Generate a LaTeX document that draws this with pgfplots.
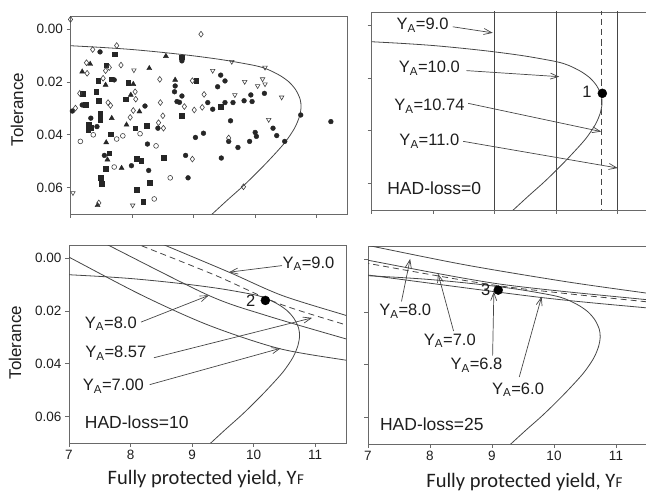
\documentclass[border=0pt]{standalone}
\usepackage{fontspec}
\setmainfont{Liberation Sans}
\newfontfamily\carlito{Carlito}
\usepackage{pgfplots}
\pgfplotsset{compat=1.18}
\usetikzlibrary{arrows.meta}

\definecolor{ln}{RGB}{70,70,70}
\definecolor{fr}{RGB}{105,105,105}
\definecolor{tx}{RGB}{30,30,30}

\newcommand{\tickf}{\fontsize{13.5}{16}\selectfont}
\newcommand{\labf}{\fontsize{17}{20}\selectfont}
\newcommand{\annf}{\fontsize{16.5}{19}\selectfont}
\newcommand{\hadf}{\fontsize{17.5}{20}\selectfont}
\newcommand{\xlf}{\carlito\fontsize{20.5}{24}\selectfont}
\newcommand{\YA}{Y\textsubscript{A}}

\tikzset{
  iso/.style={ln, line width=0.8pt, smooth},
  arr/.style={ln, line width=0.7pt, -{Straight Barb[length=8pt,width=6pt]}},
  ann/.style={font=\annf, text=tx},
}
\pgfplotsset{
  panel/.style={
    scale only axis, width=277pt, height=198pt,
    xmin=7, xmax=11.5, ymin=-0.005, ymax=0.07, y dir=reverse,
    xtick={7,8,9,10,11}, ytick={0,0.02,0.04,0.06},
    xticklabels={}, yticklabels={},
    scaled x ticks=false, scaled y ticks=false,
    tick align=outside, xtick pos=bottom, ytick pos=left,
    major tick length=4pt,
    axis line style={fr, line width=0.9pt},
    tick style={fr, line width=0.8pt},
    ticklabel style={font=\tickf, text=tx},
    clip=true,
  },
}

% efficient frontier, identical in all four panels
\newcommand{\frontier}{%
  \addplot[ln, line width=0.8pt, smooth, tension=0.5] coordinates {
    (6.95,0.0062) (7.5,0.0069) (8.0,0.0077) (8.5,0.0088) (9.0,0.0101)
    (9.5,0.0117) (10.0,0.0138) (10.2,0.0152) (10.4,0.0175) (10.55,0.0200)
    (10.66,0.0230) (10.73,0.0265) (10.745,0.0295) (10.72,0.0330) (10.64,0.0375)
    (10.48,0.0430) (10.25,0.0490) (10.03,0.0543) (9.80,0.0595) (9.55,0.0647)
    (9.28,0.0705)
  };}

\begin{document}
\begin{tikzpicture}
\useasboundingbox (0pt,0pt) rectangle (646pt,497pt);
\clip (0pt,0pt) rectangle (646pt,497pt);

% ---------- top left: scatter ----------
\begin{axis}[panel, at={(70.5pt,283pt)}, anchor=south west,
  yticklabels={0.00,0.02,0.04,0.06}]
\frontier
\addplot[only marks, mark=*, mark size=2.4pt, black!85] coordinates {
  (7.48,0.0086) (8.81,0.0120) (7.71,0.0192) (8.70,0.0215) (8.69,0.0237)
  (8.81,0.0253) (8.73,0.0274) (8.77,0.0277) (7.19,0.0287) (8.21,0.0291)
  (7.03,0.0310) (9.44,0.0174) (9.51,0.0196) (9.39,0.0218) (10.15,0.0243)
  (9.93,0.0249) (9.82,0.0271) (9.95,0.0274) (9.64,0.0278) (9.51,0.0278)
  (9.31,0.0303) (9.23,0.0278) (10.74,0.0325) (11.23,0.0350) (9.60,0.0347)
  (9.16,0.0394) (9.03,0.0410) (9.57,0.0425) (9.72,0.0448) (9.91,0.0425)
  (10.00,0.0391) (10.02,0.0406) (10.29,0.0375) (10.35,0.0403) (10.48,0.0425)
  (9.45,0.0488) (7.33,0.0337) (7.43,0.0369) (8.42,0.0375) (8.25,0.0435)
  (8.87,0.0478) (7.55,0.0478) (7.99,0.0517) (8.27,0.0535) (8.91,0.0563)
};
\addplot[only marks, mark=square*, mark size=2.3pt, black!85] coordinates {
  (7.72,0.0094) (8.81,0.0106) (7.58,0.0136) (7.45,0.0195) (7.66,0.0190)
  (7.94,0.0203) (9.04,0.0195) (7.20,0.0245) (7.42,0.0237) (7.46,0.0271)
  (7.90,0.0265) (9.44,0.0293) (8.81,0.0327) (7.48,0.0321) (7.48,0.0343)
  (7.30,0.0362) (7.33,0.0372) (7.29,0.0381) (7.65,0.0398) (8.05,0.0375)
  (8.24,0.0365) (7.63,0.0469) (7.57,0.0529) (8.08,0.0491) (8.15,0.0497)
  (8.51,0.0486) (7.49,0.0563) (7.51,0.0586) (8.29,0.0582) (8.08,0.0608)
  (8.18,0.0654) (7.25,0.0287)
};
\addplot[only marks, mark=triangle*, mark size=2.9pt, black!85] coordinates {
  (8.55,0.0102) (7.32,0.0132) (8.28,0.0148) (7.19,0.0161) (7.57,0.0211)
  (8.02,0.0208) (8.70,0.0192) (7.98,0.0249) (8.12,0.0312) (7.67,0.0337)
  (7.91,0.0362) (7.58,0.0429) (7.60,0.0494) (7.83,0.0526) (7.44,0.0667)
};
\addplot[only marks, mark=diamond, mark size=2.9pt, black!75,
  mark options={line width=0.6pt}] coordinates {
  (7.00,-0.0037) (9.12,0.0019) (7.75,0.0062) (7.36,0.0077) (7.26,0.0127)
  (7.63,0.0145) (7.82,0.0136) (7.27,0.0167) (7.57,0.0157) (7.53,0.0186)
  (8.05,0.0237) (8.45,0.0190) (8.98,0.0195) (9.17,0.0247) (7.15,0.0243)
  (7.61,0.0278) (7.65,0.0289) (8.06,0.0265) (8.46,0.0278) (8.85,0.0293)
  (9.01,0.0306) (9.14,0.0296) (7.08,0.0299) (8.02,0.0308) (7.97,0.0334)
  (8.50,0.0328) (8.43,0.0354) (8.51,0.0375) (9.57,0.0412) (8.98,0.0492)
  (9.81,0.0597) (7.46,0.0658)
};
\addplot[only marks, mark=o, mark size=2.4pt, black!75,
  mark options={line width=0.6pt}] coordinates {
  (7.37,0.0400) (7.16,0.0425) (7.75,0.0416) (7.85,0.0404) (8.13,0.0396)
  (8.39,0.0442) (7.71,0.0522) (8.62,0.0563) (8.36,0.0643)
};
\addplot[only marks, mark=triangle, mark size=2.6pt, black!75,
  mark options={rotate=180, line width=0.6pt}] coordinates {
  (8.03,0.0155) (9.62,0.0123) (10.16,0.0145) (9.31,0.0157) (9.83,0.0199)
  (10.04,0.0215) (10.12,0.0189) (10.16,0.0208) (10.43,0.0258) (9.67,0.0249)
  (10.22,0.0343) (8.01,0.0667) (7.04,0.0620)
};
\end{axis}

% ---------- top right: HAD-loss = 0 ----------
\begin{axis}[panel, at={(371.5pt,287pt)}, anchor=south west]
\frontier
\addplot[iso] coordinates {(9,-0.01) (9,0.08)};
\addplot[iso] coordinates {(10,-0.01) (10,0.08)};
\addplot[iso, dash pattern=on 6pt off 4pt] coordinates {(10.74,-0.01) (10.74,0.08)};
\addplot[iso] coordinates {(11,-0.01) (11,0.08)};
\addplot[only marks, mark=*, mark size=4.5pt, black] coordinates {(10.75,0.0258)};
\node[ann] at (10.50,0.0252) {1};
\node[ann] at (7.83,0.0000) {\YA=9.0};
\draw[arr] (8.32,0.0006) -- (8.97,0.0029);
\node[ann] at (7.94,0.0163) {\YA=10.0};
\draw[arr] (8.54,0.0172) -- (10.05,0.0195);
\node[ann] at (7.94,0.0308) {\YA=10.74};
\draw[arr] (8.57,0.0296) -- (10.73,0.0403);
\node[ann] at (7.94,0.0440) {\YA=11.0};
\draw[arr] (8.49,0.0440) -- (11.0,0.0541);
\node[font=\hadf, text=tx] at (8.02,0.0616) {HAD-loss=0};
\end{axis}

% ---------- bottom left: HAD-loss = 10 ----------
\begin{axis}[panel, at={(69pt,54pt)}, anchor=south west,
  xticklabels={7,8,9,10,11}, yticklabels={0.00,0.02,0.04,0.06}]
\frontier
\addplot[iso] coordinates {(8.45,-0.0060) (8.57,-0.0048) (9.60,0.0053) (10.46,0.0141) (11.49,0.0216) (11.6,0.0224)};
\addplot[iso, dash pattern=on 6pt off 4pt] coordinates {(8.05,-0.0060) (8.17,-0.0048) (9.38,0.0065) (10.41,0.0172) (11.49,0.0252) (11.6,0.0259)};
\addplot[iso] coordinates {(7.55,-0.0060) (7.65,-0.0048) (9.27,0.0141) (10.19,0.0216) (11.49,0.0305) (11.6,0.0311)};
\addplot[iso] coordinates {(6.9,-0.0016) (7.0,-0.0004) (8.19,0.0141) (9.27,0.0254) (10.41,0.0342) (11.49,0.0386) (11.6,0.0389)};
\addplot[only marks, mark=*, mark size=4.5pt, black] coordinates {(10.19,0.0160)};
\node[ann] at (9.95,0.0163) {2};
\node[ann] at (10.89,0.0021) {\YA=9.0};
\draw[arr] (10.46,0.0028) -- (9.60,0.0053);
\node[ann] at (7.68,0.0248) {\YA=8.0};
\draw[arr] (8.17,0.0242) -- (9.27,0.0141);
\node[ann] at (7.76,0.0361) {\YA=8.57};
\draw[arr] (8.38,0.0377) -- (10.95,0.0226);
\node[ann] at (7.72,0.0486) {\YA=7.00};
\draw[arr] (8.31,0.0479) -- (10.44,0.0341);
\node[font=\hadf, text=tx] at (8.10,0.0621) {HAD-loss=10};
\end{axis}

% ---------- bottom right: HAD-loss = 25 ----------
\begin{axis}[panel, at={(368pt,53pt)}, anchor=south west, width=279pt,
  xticklabels={7,8,9,10,11}]
\frontier
\addplot[iso] coordinates {(6.95,-0.0055) (7.13,-0.0046) (8.58,0.0022) (10.19,0.0085) (11.48,0.0128) (11.6,0.0131)};
\addplot[iso] coordinates {(6.9,0.0000) (7.0,0.0004) (9.12,0.0094) (11.48,0.0153) (11.6,0.0155)};
\addplot[iso, dash pattern=on 6pt off 4pt] coordinates {(6.9,0.0012) (7.0,0.0016) (9.12,0.0101) (11.48,0.0161) (11.6,0.0163)};
\addplot[iso] coordinates {(6.9,0.0057) (7.0,0.0060) (9.79,0.0145) (11.48,0.0184) (11.6,0.0186)};
\addplot[only marks, mark=*, mark size=4.5pt, black] coordinates {(9.10,0.0117)};
\node[ann] at (8.90,0.0117) {3};
\node[ann] at (7.60,0.0197) {\YA=8.0};
\draw[arr] (7.54,0.0160) -- (7.68,-0.0001);
\node[ann] at (8.32,0.0309) {\YA=7.0};
\draw[arr] (8.38,0.0272) -- (8.13,0.0055);
\node[ann] at (8.75,0.0402) {\YA=6.8};
\draw[arr] (9.01,0.0365) -- (9.03,0.0123);
\node[ann] at (9.42,0.0495) {\YA=6.0};
\draw[arr] (9.44,0.0446) -- (9.80,0.0142);
\node[font=\hadf, text=tx] at (8.03,0.0626) {HAD-loss=25};
\end{axis}

% ---------- outer labels ----------
\node[font=\labf, text=tx, rotate=90] at (17pt,387.5pt) {Tolerance};
\node[font=\labf, text=tx, rotate=90] at (15pt,154.5pt) {Tolerance};
\node[font=\xlf, text=tx, anchor=base] at (205.8pt,12pt) {Fully protected yield, Y\kern0.3pt{\fontsize{15}{16}\selectfont F}};
\node[font=\xlf, text=tx, anchor=base] at (524.5pt,9pt) {Fully protected yield, Y\kern0.3pt{\fontsize{15}{16}\selectfont F}};
\end{tikzpicture}
\end{document}
